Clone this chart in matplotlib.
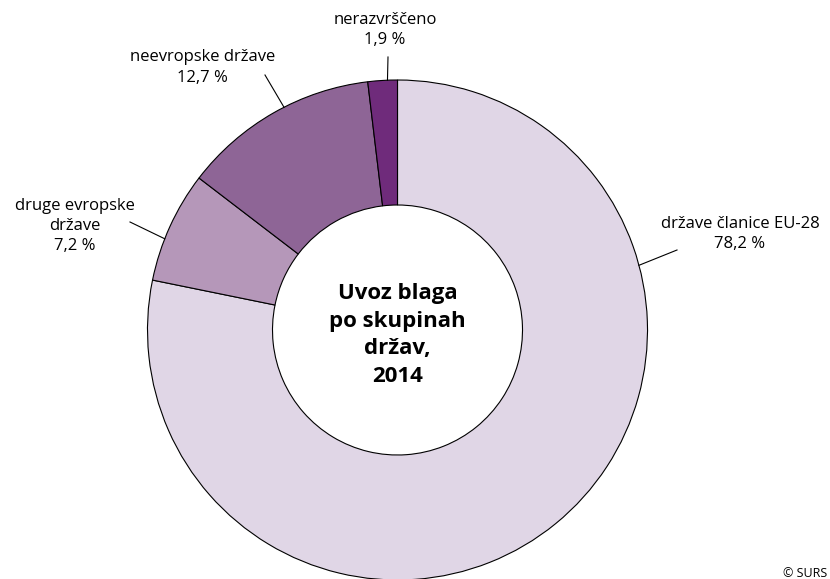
import numpy as np
import matplotlib.pyplot as plt

plt.rcParams['font.family'] = ['Open Sans', 'DejaVu Sans']

# data
labels = ['države članice EU-28', 'druge evropske\ndržave', 'neevropske države', 'nerazvrščeno']
values = [78.2, 7.2, 12.7, 1.9]
value_text = ['78,2 %', '7,2 %', '12,7 %', '1,9 %']
colors = ['#e0d6e6', '#b597b9', '#8e6596', '#6f2b7b']

# label layout: (text x, text y, leader angle on ring, leader end x, leader end y)
label_pos = [
    (1.37, 0.385, 15.0, 1.118, 0.32),
    (-1.29, 0.415, 158.6, -1.07, 0.432),
    (-0.78, 1.05, 117.0, -0.53, 1.02),
    (-0.05, 1.20, 92.3, -0.038, 1.092),
]

fig = plt.figure(figsize=(8.3, 5.79), dpi=100)
ax = fig.add_axes([0, 0, 1, 1])

ax.pie(values, colors=colors, startangle=90, counterclock=False, radius=1.0,
       wedgeprops=dict(width=0.5, edgecolor='black', linewidth=0.8))

for lab, val, (tx, ty, ang, lx, ly) in zip(labels, value_text, label_pos):
    a = np.deg2rad(ang)
    ax.plot([np.cos(a), lx], [np.sin(a), ly], color='black', linewidth=0.8)
    ax.text(tx, ty, lab + '\n' + val, ha='center', va='center',
            fontsize=12, linespacing=1.35)

ax.text(0, -0.02, 'Uvoz blaga\npo skupinah\ndržav,\n2014', ha='center', va='center',
        fontsize=16, fontweight='bold', linespacing=1.4)

ax.text(1.72, -1.0, '© SURS', ha='right', va='bottom', fontsize=9)

ax.set_xlim(-1.59, 1.73)
ax.set_ylim(-0.996, 1.32)
ax.set_aspect('auto')
ax.axis('off')

fig.savefig('out.png', dpi=100)
